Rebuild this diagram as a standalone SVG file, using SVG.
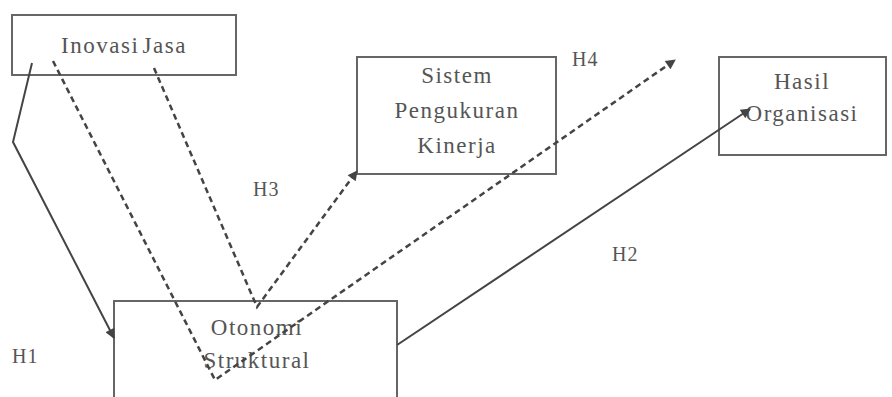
<svg xmlns="http://www.w3.org/2000/svg" width="892" height="397" viewBox="0 0 892 397">
<defs>
<style>
.box{fill:#fff;stroke:#666;stroke-width:2}
.t{font-family:"Liberation Serif","Times New Roman",serif;font-size:23px;fill:#555;text-anchor:middle;letter-spacing:1.5px}
.lbl{font-family:"Liberation Serif","Times New Roman",serif;font-size:20px;fill:#555;letter-spacing:1px}
.solid{fill:none;stroke:#444;stroke-width:2}
.dash{fill:none;stroke:#444;stroke-width:2.5;stroke-dasharray:6 4}
</style>
<marker id="ah" viewBox="0 0 10 10" refX="9" refY="5" markerWidth="12" markerHeight="10" markerUnits="userSpaceOnUse" orient="auto">
<path d="M0,0 L10,5 L0,10 Z" fill="#444"/>
</marker>
</defs>
<rect width="892" height="397" fill="#fff"/>
<g id="inovasi-jasa">
<rect class="box" x="12" y="15" width="224" height="60"/>
<text class="t" x="124" y="53" word-spacing="-4">Inovasi Jasa</text>
</g>
<g id="sistem-pengukuran-kinerja">
<rect class="box" x="357" y="57" width="199" height="117"/>
<text class="t" x="457" y="83">Sistem</text>
<text class="t" x="457" y="118">Pengukuran</text>
<text class="t" x="457" y="153">Kinerja</text>
</g>
<g id="hasil-organisasi">
<rect class="box" x="719" y="57" width="167" height="98"/>
<text class="t" x="802" y="89">Hasil</text>
<text class="t" x="802" y="121">Organisasi</text>
</g>
<g id="otonomi-struktural">
<rect class="box" x="114" y="301" width="283" height="110"/>
<text class="t" x="257" y="335">Otonomi</text>
<text class="t" x="257" y="368">Struktural</text>
</g>
<g id="connectors">
<path class="solid" d="M32,63 L13,142 L114,338" marker-end="url(#ah)"/>
<path class="dash" d="M53,61 L215,380 L675,60" marker-end="url(#ah)"/>
<path class="dash" d="M154,68 L257,307 L357,171" marker-end="url(#ah)"/>
<path class="solid" d="M397,345 L750,109" marker-end="url(#ah)"/>
</g>
<g id="labels">
<text class="lbl" x="572" y="66">H4</text>
<text class="lbl" x="253" y="196">H3</text>
<text class="lbl" x="612" y="261">H2</text>
<text class="lbl" x="12" y="363">H1</text>
</g>
</svg>
